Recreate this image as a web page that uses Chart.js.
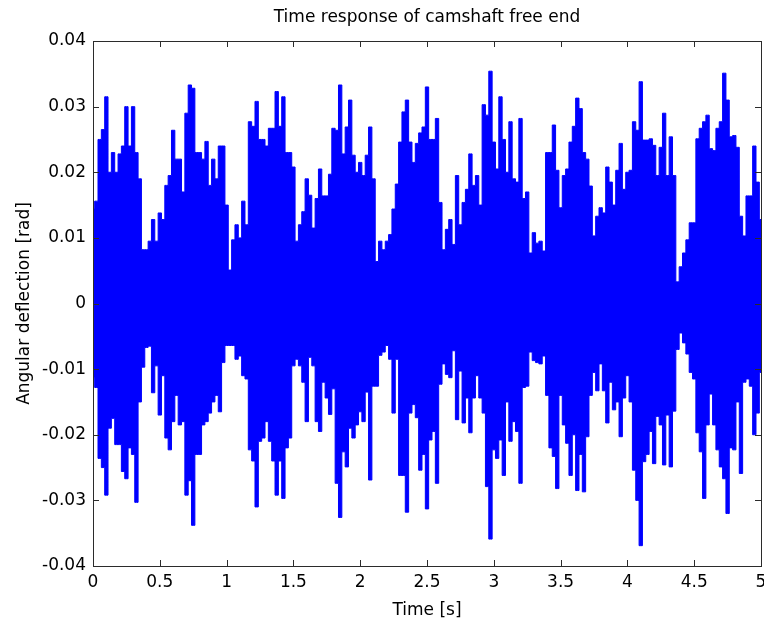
<!DOCTYPE html>
<html>
<head>
<meta charset="utf-8">
<script src="https://cdn.jsdelivr.net/npm/chart.js@4.4.1/dist/chart.umd.min.js"></script>
<style>
  html, body { margin: 0; padding: 0; background: #fff; }
</style>
</head>
<body>
<canvas id="chart" width="764" height="623"></canvas>
<script>
// time axis: one envelope sample every 0.025 s, from 0 to 5 s
const sampleStep = 0.025;

// upper envelope of the response, mrad
const upperMrad = [
  14.4, 15.6, 25, 26.5, 31.5, 20, 23, 20, 22.8, 24,
  30, 24, 30, 23, 19, 8.2, 8.2, 9.5, 12.8, 9.5,
  13.8, 12.8, 18, 19.5, 26.4, 22, 22, 17, 29, 33.3,
  32.8, 23, 23, 22, 24.7, 18, 22, 19, 24, 24,
  15, 5.1, 9.7, 12, 10, 15.6, 12, 27.7, 27, 30.8,
  25, 25, 24, 26.7, 26.7, 32.3, 27, 31.5, 23, 23,
  20.8, 9.5, 12, 14, 19, 16.5, 11.5, 16, 20.5,
  16.4, 16.4, 19.7, 26.7, 26.4, 33.3, 22.8, 26.9, 31, 22.6,
  20, 21.5, 19.5, 22.6, 26.9, 19, 6.4, 9.5, 8.2, 9.5,
  10.5, 14.4, 18.2, 24.6, 29.2, 31, 24.6, 21.5, 24.4, 26,
  26.9, 33, 25, 25, 28.2, 15.4, 8.2, 11.3, 12.8, 9,
  19.5, 12, 15.4, 17.4, 22.8, 18, 19.5, 15, 30.3, 28.7,
  35.4, 24.6, 20.5, 31.5, 25, 20, 27.7, 19, 18.5, 28.2,
  16, 17, 7.7, 10.8, 9.2, 9.5,
  8, 23, 23, 27.2, 20.3, 14.6, 19.5, 20.5, 24.6, 27,
  31.3, 29.7, 23, 22, 17.9, 10.3, 13.3, 14.6, 13.8, 20.8,
  18.5, 15, 20.3, 24.4, 17.4, 20, 20.3, 27.7, 26.4, 33.8,
  24.9, 24.9, 25.1, 24.1, 19.5, 23.8, 29, 19.5, 25.4, 19.5,
  3.3, 5.6, 7.7, 9.7, 12.3, 12.3, 25.1, 26.7, 27.7, 28.7,
  23.6, 23.3, 26.7, 27.7, 35.1, 31, 25.4, 25.6, 23.8, 13.3,
  10.3, 16.4, 16.4, 24, 18.5, 12.8
];

// lower envelope of the response, mrad
const lowerMrad = [
  -11.3, -12.8, -23.6, -25, -29.2, -19, -17.5, -21.5, -21.5, -25.6,
  -26.7, -22, -23, -30.3, -15, -9.7, -6.7, -6.5, -13.6, -9.5,
  -17, -11, -20.5, -22.3, -18, -14, -18.5, -18, -29.2, -27,
  -33.8, -23, -23, -18.5, -18, -16.7, -15, -14, -16.5, -9,
  -6.4, -6.4, -6.4, -8.5, -8, -11, -11.5, -22.3, -24, -31,
  -21, -20.5, -18, -21, -24, -29.2, -24, -29.7, -22, -20.5,
  -9.5, -8.5, -9.5, -12, -18, -8.2, -9.5, -18, -19.5,
  -12, -14.4, -16.9, -13, -27.4, -32.6, -22.6, -24.9, -19, -20.5,
  -18.5, -16.5, -18, -13.5, -26.9, -12.6, -12.6, -7.9, -7.4, -6.4,
  -8.5, -16.7, -8.5, -26.2, -26.2, -31.8, -16.7, -15.4, -17.4, -25.4,
  -23, -31.3, -20.8, -19.5, -27.4, -12.3, -9.2, -10.8, -11.3, -7.2,
  -17.7, -10.3, -18.2, -14.4, -19.7, -14.4, -11, -14.4, -16.7, -27.9,
  -35.9, -22.3, -23.6, -20.8, -26.2, -15, -21, -18, -19.5, -27.4,
  -12.8, -12.6, -7.4, -8.7, -9, -9.2,
  -8, -14, -22, -23.3, -28.2, -14, -18.5, -21.3, -26.2, -20,
  -28.5, -23, -28.7, -20.3, -14, -10.5, -13.3, -9.2, -13.3, -18.2,
  -12, -16.2, -15, -20.3, -14.4, -11, -15, -25.4, -30, -36.9,
  -24.1, -23, -19.5, -24.4, -17.2, -18.5, -24.6, -17, -24.9, -16.4,
  -7, -4.5, -6, -7.7, -10.5, -11.5, -19.7, -22.6, -29.7, -18.5,
  -13.8, -18.5, -22.3, -24.9, -26.7, -32, -22, -22.3, -15, -25.9,
  -12, -11.5, -12.6, -20, -16.7, -10.5
];

const xTickLabels = ['0', '0.5', '1', '1.5', '2', '2.5', '3', '3.5', '4', '4.5', '5'];
const yTickLabels = ['-0.04', '-0.03', '-0.02', '-0.01', '0', '0.01', '0.02', '0.03', '0.04'];

const toPoints = arr => arr.map((v, i) => ({ x: i * sampleStep, y: v / 1000 }));

const BLUE = '#0000ff';
const AXIS = '#2b2b2b';

Chart.defaults.font.family = "'DejaVu Sans', sans-serif";
Chart.defaults.font.size = 17;
Chart.defaults.color = '#000';

// matlab style box with inward ticks on all four sides
const boxPlugin = {
  id: 'matlabBox',
  afterDraw(chart) {
    const { ctx, chartArea: a, scales: { x, y } } = chart;
    const len = 6;
    ctx.save();
    ctx.strokeStyle = AXIS;
    ctx.lineWidth = 1;
    ctx.beginPath();
    x.ticks.forEach(t => {
      const px = Math.round(x.getPixelForValue(t.value)) + 0.5;
      ctx.moveTo(px, a.bottom); ctx.lineTo(px, a.bottom - len);
      ctx.moveTo(px, a.top); ctx.lineTo(px, a.top + len);
    });
    y.ticks.forEach(t => {
      const py = Math.round(y.getPixelForValue(t.value)) + 0.5;
      ctx.moveTo(a.left, py); ctx.lineTo(a.left + len, py);
      ctx.moveTo(a.right, py); ctx.lineTo(a.right - len, py);
    });
    ctx.stroke();
    ctx.strokeRect(Math.round(a.left) + 0.5, Math.round(a.top) + 0.5,
                   Math.round(a.right - a.left), Math.round(a.bottom - a.top));
    ctx.restore();
  }
};

new Chart(document.getElementById('chart'), {
  type: 'line',
  data: {
    datasets: [
      {
        label: 'upper',
        data: toPoints(upperMrad),
        stepped: 'middle',
        borderColor: BLUE,
        backgroundColor: BLUE,
        borderWidth: 1,
        pointRadius: 0,
        // fills overlap a little around zero so no seam shows
        fill: { value: -0.002 }
      },
      {
        label: 'lower',
        data: toPoints(lowerMrad),
        stepped: 'middle',
        borderColor: BLUE,
        backgroundColor: BLUE,
        borderWidth: 1,
        pointRadius: 0,
        fill: { value: 0.002 }
      }
    ]
  },
  options: {
    responsive: false,
    animation: false,
    layout: { padding: { left: 0, right: 3, top: 0, bottom: 0 } },
    plugins: {
      legend: { display: false },
      tooltip: { enabled: false },
      title: {
        display: true,
        fullSize: false,
        text: 'Time response of camshaft free end',
        color: '#000',
        font: { size: 17, weight: 'normal' },
        padding: { top: 7, bottom: 13.6 }
      }
    },
    scales: {
      x: {
        type: 'linear',
        min: 0,
        max: 5,
        grid: { display: false, drawTicks: false },
        border: { display: true, color: AXIS, width: 1 },
        ticks: {
          stepSize: 0.5,
          padding: 6,
          maxRotation: 0,
          autoSkip: false,
          color: '#000',
          callback: (v, i) => xTickLabels[i]
        },
        title: {
          display: true,
          text: 'Time [s]',
          color: '#000',
          padding: { top: 2, bottom: 2 }
        },
        afterFit: s => { s.height = 57; s.paddingLeft = 0; s.paddingRight = 0; }
      },
      y: {
        min: -0.04,
        max: 0.04,
        grid: { display: false, drawTicks: false },
        border: { display: true, color: AXIS, width: 1 },
        ticks: {
          stepSize: 0.01,
          padding: 7,
          autoSkip: false,
          color: '#000',
          callback: (v, i) => yTickLabels[i]
        },
        title: {
          display: true,
          text: 'Angular deflection [rad]',
          color: '#000',
          padding: { top: 14, bottom: 0 }
        },
        afterFit: s => { s.width = 93; s.paddingTop = 0; s.paddingBottom = 0; }
      }
    }
  },
  plugins: [boxPlugin]
});
</script>
</body>
</html>
